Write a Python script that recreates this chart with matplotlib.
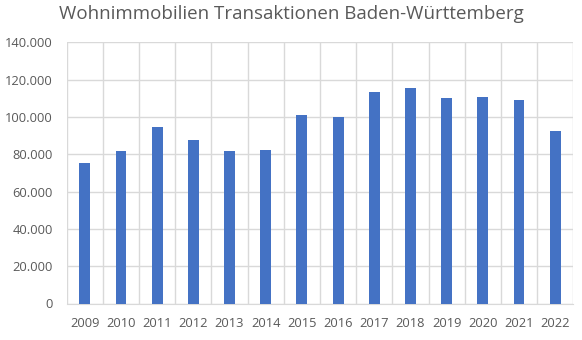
import matplotlib
matplotlib.use("Agg")
import matplotlib.pyplot as plt
from matplotlib.ticker import FuncFormatter, MultipleLocator

years = ["2009", "2010", "2011", "2012", "2013", "2014", "2015",
         "2016", "2017", "2018", "2019", "2020", "2021", "2022"]
transactions = [75500, 81500, 94400, 87400, 81500, 82500, 101300,
                99700, 113200, 115300, 110000, 110500, 108900, 92700]
title = "Wohnimmobilien Transaktionen Baden-Württemberg"

plt.rcParams['font.family'] = ['Open Sans', 'DejaVu Sans']
fig = plt.figure(figsize=(5.82, 3.40), dpi=100)
ax = fig.add_axes([66.7/582, 1 - 303.5/340, (573.3-66.7)/582, (303.5-42.3)/340])

x = list(range(len(years)))
ax.bar(x, transactions, width=0.3, color="#4472C4", zorder=3)

ax.set_xlim(-0.5, len(years) - 0.5)
ax.set_ylim(0, 140000)
ax.yaxis.set_major_locator(MultipleLocator(20000))
ax.yaxis.set_major_formatter(FuncFormatter(lambda v, p: f"{int(v):,}".replace(",", ".")))
ax.set_xticks(x)
ax.set_xticklabels(years)
ax.set_xticks([i - 0.5 for i in range(len(years) + 1)], minor=True)

ax.grid(axis="y", which="major", color="#D9D9D9", linewidth=1, zorder=0)
ax.grid(axis="x", which="minor", color="#D9D9D9", linewidth=1, zorder=0)
for s in ["top", "right", "left"]:
    ax.spines[s].set_visible(False)
ax.spines["bottom"].set_color("#D9D9D9")
ax.tick_params(axis="both", which="both", length=0, colors="#595959", labelsize=9.3)
ax.tick_params(axis="y", pad=10)
ax.tick_params(axis="x", pad=10)

fig.text(0.5 * (58 + 525) / 582, 1 - 14 / 340, title, ha="center", va="center",
         fontsize=13.5, color="#595959")

fig.savefig("out.png", dpi=100)
